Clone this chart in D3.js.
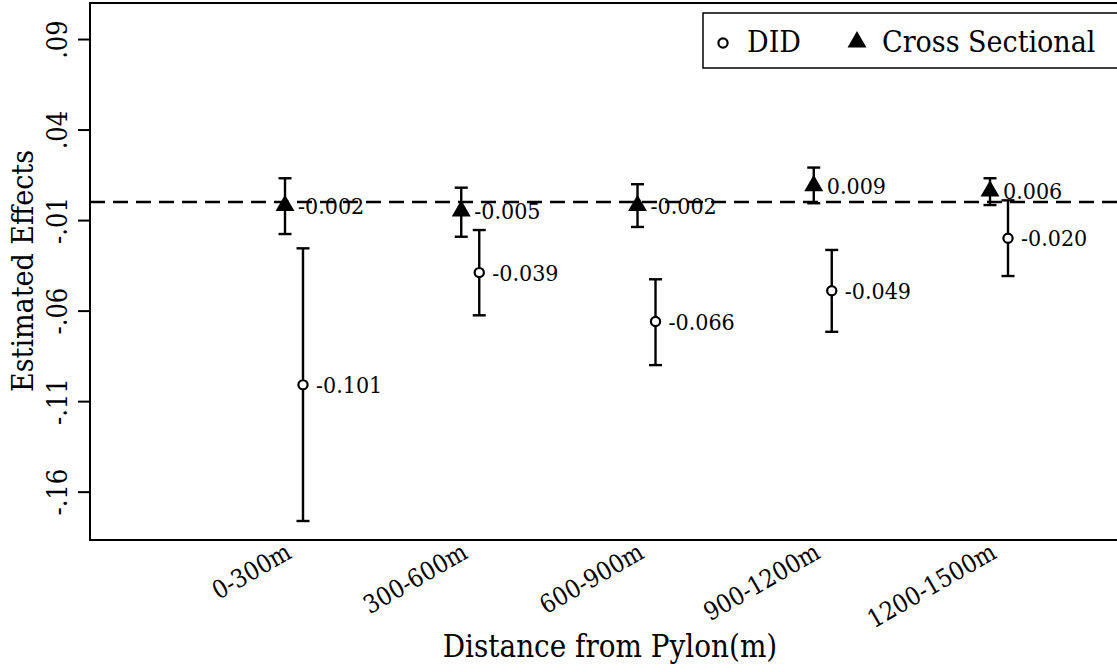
<!DOCTYPE html>
<html>
<head>
<meta charset="utf-8">
<script src="https://cdn.jsdelivr.net/npm/d3@7"></script>
<style>
  body { margin: 0; background: #fff; }
  svg text { font-family: "DejaVu Serif Condensed", "DejaVu Serif", serif; fill: #000; }
</style>
</head>
<body>
<svg id="chart"></svg>
<script>
// categorias y valores
const categories = ["0-300m", "300-600m", "600-900m", "900-1200m", "1200-1500m"];
const didValues = [-0.101, -0.039, -0.066, -0.049, -0.020];
const didLower = [-0.1762, -0.0626, -0.0901, -0.0717, -0.0409];
const didUpper = [-0.0256, -0.0155, -0.0427, -0.0265, 0.0009];
const csValues = [-0.002, -0.005, -0.002, 0.009, 0.006];
const csLower = [-0.0177, -0.0192, -0.0138, -0.0007, -0.0017];
const csUpper = [0.0131, 0.0079, 0.0098, 0.0190, 0.0131];
const yTicks = [0.09, 0.04, -0.01, -0.06, -0.11, -0.16];
const yTickLabels = [".09", ".04", "-.01", "-.06", "-.11", "-.16"];

const width = 1117;
const height = 665;

const svg = d3.select("#chart")
              .attr("width", width)
              .attr("height", height);

const plotLeft = 90, plotTop = 3, plotBottom = 540;

// escalas
const xScale = d3.scaleLinear().domain([0, 4]).range([294, 999]);
const yScale = d3.scaleLinear().domain([-0.1867, 0.1099]).range([plotBottom, plotTop]);
const offset = 9; // desplazamiento de cada serie respecto al centro

// marco del grafico
svg.append("rect")
   .attr("x", plotLeft).attr("y", plotTop)
   .attr("width", width + 10 - plotLeft).attr("height", plotBottom - plotTop)
   .attr("fill", "none").attr("stroke", "#000").attr("stroke-width", 2);

// eje Y
const yAxis = svg.append("g")
   .attr("transform", `translate(${plotLeft},0)`)
   .call(d3.axisLeft(yScale)
           .tickValues(yTicks)
           .tickFormat((d, i) => yTickLabels[i])
           .tickSize(12));
yAxis.select(".domain").remove();
yAxis.selectAll(".tick line").attr("stroke", "#000").attr("stroke-width", 2);
yAxis.selectAll(".tick text")
     .attr("x", 0).attr("dy", 0)
     .attr("text-anchor", "middle")
     .attr("transform", "translate(-23,0) rotate(-90)")
     .style("font-size", "27px")
     .style("font-family", "\"DejaVu Serif Condensed\", \"DejaVu Serif\", serif");

// linea de cero
svg.append("line")
   .attr("x1", plotLeft).attr("x2", width)
   .attr("y1", yScale(0)).attr("y2", yScale(0))
   .attr("stroke", "#000").attr("stroke-width", 2.4)
   .attr("stroke-dasharray", "15,8");

// etiquetas eje X
svg.selectAll(".xlab")
   .data(categories)
   .enter()
   .append("text")
   .attr("class", "xlab")
   .attr("text-anchor", "end")
   .attr("transform", (d, i) => `translate(${xScale(i) - 1},557) rotate(-30)`)
   .style("font-size", "25px")
   .text(d => d);

// titulos
svg.append("text")
   .attr("text-anchor", "middle")
   .attr("x", 610).attr("y", 657)
   .style("font-size", "31px")
   .text("Distance from Pylon(m)");
svg.append("text")
   .attr("text-anchor", "middle")
   .attr("transform", "translate(33,271) rotate(-90)")
   .style("font-size", "30px")
   .text("Estimated Effects");

// barras de error
function drawSeries(values, lower, upper, dx, cls) {
  const g = svg.append("g").attr("class", cls);
  const cap = 6.5;
  values.forEach((v, i) => {
    const x = xScale(i) + dx;
    g.append("line")
     .attr("x1", x).attr("x2", x)
     .attr("y1", yScale(lower[i])).attr("y2", yScale(upper[i]))
     .attr("stroke", "#000").attr("stroke-width", 2.4);
    [lower[i], upper[i]].forEach(e => {
      g.append("line")
       .attr("x1", x - cap).attr("x2", x + cap)
       .attr("y1", yScale(e)).attr("y2", yScale(e))
       .attr("stroke", "#000").attr("stroke-width", 2.4);
    });
  });
  return g;
}

const csG = drawSeries(csValues, csLower, csUpper, -offset, "cs");
const didG = drawSeries(didValues, didLower, didUpper, offset, "did");

const tri = d3.symbol().type(d3.symbolTriangle).size(155);

csG.selectAll("path")
   .data(csValues)
   .enter()
   .append("path")
   .attr("d", tri)
   .attr("transform", (d, i) => `translate(${xScale(i) - offset},${yScale(d)})`)
   .attr("fill", "#000");

didG.selectAll("circle")
   .data(didValues)
   .enter()
   .append("circle")
   .attr("cx", (d, i) => xScale(i) + offset)
   .attr("cy", d => yScale(d))
   .attr("r", 4.6)
   .attr("fill", "#fff")
   .attr("stroke", "#000")
   .attr("stroke-width", 2.2);

// etiquetas de valores
const fmt = d3.format(".3f");
[[csValues, -offset], [didValues, offset]].forEach(([vals, dx]) => {
  svg.selectAll(null)
     .data(vals)
     .enter()
     .append("text")
     .attr("x", (d, i) => xScale(i) + dx + 13)
     .attr("y", d => yScale(d))
     .attr("dy", "0.36em")
     .style("font-size", "23px")
     .text(d => fmt(d).replace("−", "-"));
});

// leyenda
const legend = svg.append("g");
legend.append("rect")
      .attr("x", 703).attr("y", 13)
      .attr("width", 430).attr("height", 55)
      .attr("fill", "#fff").attr("stroke", "#000").attr("stroke-width", 1.5);
legend.append("circle")
      .attr("cx", 723).attr("cy", 43).attr("r", 4.6)
      .attr("fill", "#fff").attr("stroke", "#000").attr("stroke-width", 2.2);
legend.append("text")
      .attr("x", 747).attr("y", 52)
      .style("font-size", "30px")
      .text("DID");
legend.append("path")
      .attr("d", tri)
      .attr("transform", "translate(857,42)")
      .attr("fill", "#000");
legend.append("text")
      .attr("x", 882).attr("y", 52)
      .style("font-size", "30px")
      .text("Cross Sectional");
</script>
</body>
</html>
